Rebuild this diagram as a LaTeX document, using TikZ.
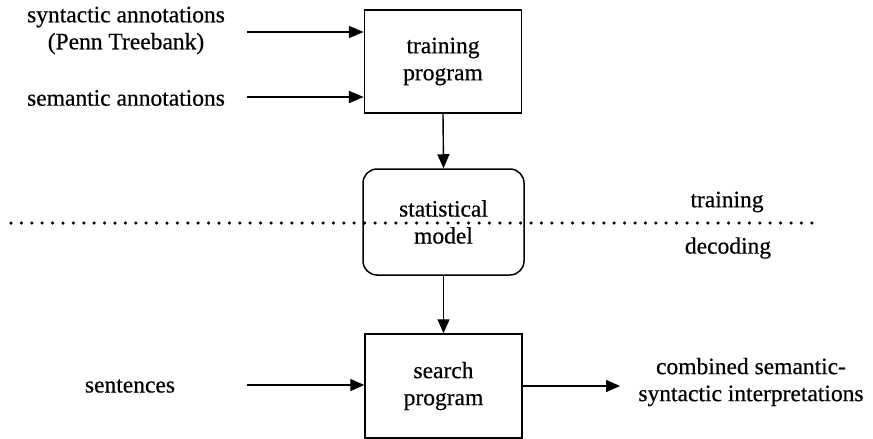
\documentclass[tikz,border=0pt]{standalone}
\usepackage{fontspec}
\newfontfamily\diafont{Liberation Serif}[FakeBold=0.5]
\usetikzlibrary{arrows.meta}
\begin{document}
\begin{tikzpicture}[x=1pt,y=-1pt,
  every node/.style={font=\diafont\fontsize{23.5}{27}\selectfont, align=center, inner sep=0pt},
  boxnode/.style={draw, line width=1.5pt, minimum width=157pt, minimum height=103pt},
  roundbox/.style={draw, line width=1.5pt, rounded corners=14pt, minimum width=161pt, minimum height=106pt},
  arr/.style={line width=1.4pt, -{Triangle[length=14pt,width=12pt]}},
  inarr/.style={line width=2pt, -{Triangle[length=15pt,width=12pt]}}]
\useasboundingbox (0,0) rectangle (873,439);
\node[boxnode] (train) at (443,61.5) {training\\program};
\node[roundbox] (stat) at (443.5,222) {statistical\\model};
\node[boxnode, minimum height=104pt] (search) at (443.5,386) {search\\program};
\draw[line width=3.5pt, line cap=round, dash pattern=on 0pt off 10.4pt] (11,223) -- (817,223);
\node (syn) at (126,30.5) {syntactic annotations\\(Penn Treebank)};
\node (sem) at (126,98) {semantic annotations};
\node (sent) at (130,386) {sentences};
\node (tr) at (727,202) {training};
\node (dec) at (728,248) {decoding};
\node (comb) at (751,382) {combined semantic-\\syntactic interpretations};
\coordinate (a1) at (247,32);
\coordinate (a2) at (247,97);
\coordinate (a3) at (247,385);
\coordinate (a4) at (620,386);
\draw[inarr] (a1) -- (a1 -| train.west);
\draw[inarr] (a2) -- (a2 -| train.west);
\draw[arr] (train.south) -- (stat.north);
\draw[arr] (stat.south) -- (search.north);
\draw[arr] (a3) -- (a3 -| search.west);
\draw[arr] (search.east |- a4) -- (a4);
\end{tikzpicture}
\end{document}
